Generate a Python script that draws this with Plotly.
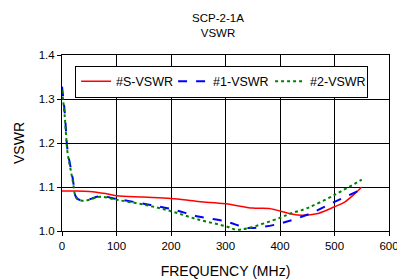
import plotly.graph_objects as go

freq_s = [0, 20, 50, 80, 100, 150, 200, 250, 300, 350, 380, 420, 440, 470, 500, 520, 540, 550]
vswr_s = [1.091, 1.091, 1.090, 1.085, 1.080, 1.077, 1.074, 1.067, 1.062, 1.052, 1.051, 1.039, 1.036, 1.040, 1.055, 1.067, 1.088, 1.100]

freq_1 = [0, 5, 10, 15, 20, 25, 30, 40, 50, 70, 100, 150, 200, 250, 300, 340, 360, 400, 450, 500, 550]
vswr_1 = [1.328, 1.27, 1.185, 1.15, 1.117, 1.079, 1.072, 1.070, 1.072, 1.079, 1.073, 1.062, 1.050, 1.033, 1.022, 1.007, 1.008, 1.017, 1.037, 1.066, 1.095]

freq_2 = [0, 5, 10, 15, 20, 25, 30, 40, 50, 70, 100, 150, 200, 250, 300, 320, 340, 400, 420, 450, 500, 550]
vswr_2 = [1.32, 1.26, 1.18, 1.145, 1.112, 1.078, 1.071, 1.069, 1.071, 1.078, 1.071, 1.060, 1.045, 1.026, 1.011, 1.003, 1.006, 1.030, 1.040, 1.052, 1.082, 1.117]

font = "Liberation Sans, Arial, sans-serif"

fig = go.Figure()
fig.add_trace(go.Scatter(x=freq_s, y=vswr_s, mode="lines", name="#S-VSWR",
                         line=dict(color="#ff0000", width=1.5, shape="spline")))
fig.add_trace(go.Scatter(x=freq_1, y=vswr_1, mode="lines", name="#1-VSWR",
                         line=dict(color="#0000ff", width=2, dash="dash", shape="spline")))
fig.add_trace(go.Scatter(x=freq_2, y=vswr_2, mode="lines", name="#2-VSWR",
                         line=dict(color="#008000", width=2, dash="dot", shape="spline")))

fig.update_layout(
    width=397, height=279,
    margin=dict(l=62, r=8, t=55, b=48),
    paper_bgcolor="white", plot_bgcolor="white",
    font=dict(family=font, size=11.5, color="black"),
    title=dict(text="SCP-2-1A<br>VSWR", x=0.477, xref="paper", xanchor="center",
               yref="container", y=0.922, yanchor="top", font=dict(size=11.5)),
    showlegend=True,
    legend=dict(orientation="h", x=0.04, y=0.94, xanchor="left", yanchor="top",
                bgcolor="white", bordercolor="black", borderwidth=1,
                font=dict(size=12.5), entrywidth=52, tracegroupgap=0),
)
fig.update_xaxes(range=[0, 600], dtick=100, showgrid=True, gridcolor="black", gridwidth=1,
                 showline=True, linecolor="black", linewidth=1, mirror=True,
                 ticks="outside", ticklen=4, tickcolor="black", zeroline=False,
                 automargin=False, ticklabeloverflow="allow",
                 title=dict(text="FREQUENCY (MHz)", standoff=16))
fig.update_yaxes(range=[1.0, 1.4], dtick=0.1, tickformat=".1f", showgrid=True, gridcolor="black",
                 gridwidth=1, showline=True, linecolor="black", linewidth=1, mirror=True,
                 ticks="outside", ticklen=4, tickcolor="black", zeroline=False,
                 automargin=False,
                 title=dict(text="VSWR", standoff=10))

fig.write_html("out.html", config={"displayModeBar": False},
               post_script="document.body.style.margin='0px';")
